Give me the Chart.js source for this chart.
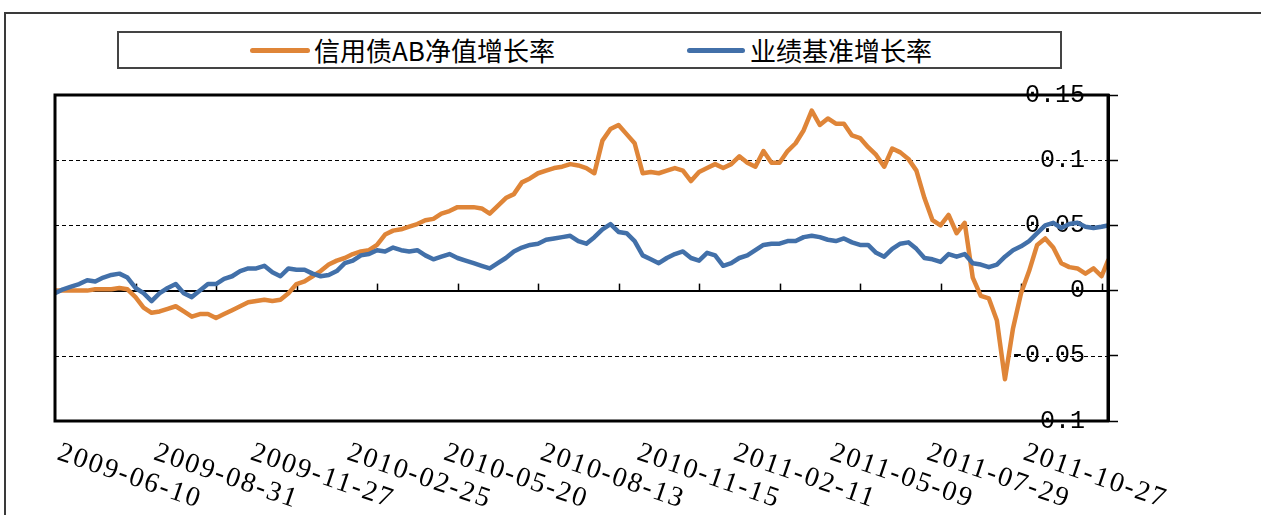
<!DOCTYPE html>
<html>
<head>
<meta charset="utf-8">
<script src="https://cdn.jsdelivr.net/npm/chart.js@4/dist/chart.umd.min.js"></script>
<style>
  html, body { margin: 0; padding: 0; background: #fff; overflow: hidden; }
  #wrap { position: relative; width: 1261px; height: 515px; overflow: hidden; }
  #frame { position: absolute; left: 4px; top: 12px; width: 1300px; height: 560px; border: 2px solid #3a3a3a; box-sizing: border-box; }
  #legend { position: absolute; left: 117px; top: 31px; width: 945px; height: 38px; border: 2px solid #444; box-sizing: border-box; }
  .sw { position: absolute; height: 5px; border-radius: 3px; top: 48px; }
  .lt { position: absolute; top: 33px; font: 26px "Noto Sans CJK SC", sans-serif; line-height: 34px; color: #000; white-space: nowrap; }
  canvas { position: absolute; left: 0; top: 0; }
</style>
</head>
<body>
<div id="wrap">
  <div id="frame"></div>
  <div id="legend"></div>
  <div class="sw" id="sw0" style="left:250px;width:60px"></div>
  <div class="lt" id="lt0" style="left:314px"></div>
  <div class="sw" id="sw1" style="left:687px;width:58px"></div>
  <div class="lt" id="lt1" style="left:750px"></div>
  <canvas id="chart" width="1261" height="515"></canvas>
</div>
<script>
// series names + colours
const SERIES_NAMES = ["信用债AB净值增长率", "业绩基准增长率"];
const SERIES_COLORS = ["#DF8538", "#4270A9"];

// date labels and their position along the trading-day axis
const DATE_LABELS = ["2009-06-10","2009-08-31","2009-11-27","2010-02-25","2010-05-20","2010-08-13","2010-11-15","2011-02-11","2011-05-09","2011-07-29","2011-10-27"];
const DATE_POS = [0, 60, 120, 180, 240, 300, 360, 420, 480, 540, 600];
const X_TICKS = [50, 100, 150, 200, 250, 300, 350, 400, 450, 500, 550, 600, 650];
const X_MAX = 654;
const SAMPLE_STEP = 5;

const Y_MIN = -0.1, Y_MAX = 0.15, Y_STEP = 0.05;

// values, one every 5 trading days
const creditAB = [
  0,0,0,0,0,0.001,0.001,0.001,0.002,0.001,
  -0.005,-0.013,-0.017,-0.016,-0.014,-0.012,-0.016,-0.020,-0.018,-0.018,
  -0.021,-0.018,-0.015,-0.012,-0.009,-0.008,-0.007,-0.008,-0.007,-0.002,
  0.005,0.007,0.011,0.015,0.020,0.023,0.025,0.028,0.030,0.031,
  0.035,0.043,0.046,0.047,0.049,0.051,0.054,0.055,0.059,0.061,
  0.064,0.064,0.064,0.063,0.059,0.065,0.071,0.074,0.083,0.086,
  0.090,0.092,0.094,0.095,0.097,0.096,0.094,0.090,0.115,0.124,
  0.127,0.120,0.113,0.090,0.091,0.090,0.092,0.094,0.092,0.084,
  0.091,0.094,0.097,0.094,0.097,0.103,0.098,0.095,0.107,0.098,
  0.098,0.107,0.113,0.123,0.138,0.127,0.132,0.128,0.128,0.119,
  0.117,0.110,0.104,0.095,0.109,0.106,0.101,0.092,0.071,0.054,
  0.050,0.058,0.044,0.052,0.010,-0.004,-0.006,-0.023,-0.068,-0.029,
  -0.002,0.015,0.035,0.040,0.033,0.021,0.018,0.017,0.013,0.017,
  0.011,0.023
];
const benchmark = [
  -0.002,0.001,0.003,0.005,0.008,0.007,0.010,0.012,0.013,0.010,
  0.002,-0.002,-0.008,-0.002,0.002,0.005,-0.002,-0.005,0,0.005,
  0.005,0.009,0.011,0.015,0.017,0.017,0.019,0.014,0.011,0.017,
  0.016,0.016,0.013,0.011,0.012,0.015,0.021,0.023,0.027,0.028,
  0.031,0.030,0.033,0.031,0.030,0.031,0.027,0.024,0.026,0.028,
  0.025,0.023,0.021,0.019,0.017,0.021,0.025,0.030,0.033,0.035,
  0.036,0.039,0.040,0.041,0.042,0.038,0.036,0.041,0.047,0.051,
  0.045,0.044,0.038,0.027,0.024,0.021,0.025,0.028,0.030,0.025,
  0.023,0.029,0.027,0.019,0.021,0.025,0.027,0.031,0.035,0.036,
  0.036,0.038,0.038,0.041,0.042,0.041,0.039,0.038,0.040,0.037,
  0.035,0.035,0.029,0.026,0.032,0.036,0.037,0.032,0.025,0.024,
  0.022,0.028,0.026,0.028,0.021,0.020,0.018,0.020,0.026,0.031,
  0.034,0.038,0.044,0.050,0.052,0.048,0.051,0.052,0.049,0.048,
  0.049,0.050
];

// legend (html)
[0, 1].forEach(i => {
  document.getElementById("sw" + i).style.background = SERIES_COLORS[i];
  document.getElementById("lt" + i).textContent = SERIES_NAMES[i];
});

const toPoints = arr => arr.map((v, i) => ({ x: Math.min(i * SAMPLE_STEP, X_MAX), y: v }));
const isZero = v => Math.abs(v) < 1e-9;

// gridlines (dashed, zero solid), plot frame, small x ticks on the zero line, rotated date labels
const extras = {
  id: "extras",
  beforeDatasetsDraw(chart){
    const { ctx, chartArea: a, scales: { x, y } } = chart;
    ctx.save();
    ctx.strokeStyle = "#000";
    y.ticks.forEach(t => {
      const py = Math.round(y.getPixelForValue(t.value));
      ctx.beginPath();
      if (isZero(t.value)){
        ctx.setLineDash([]);
        ctx.lineWidth = 2;
        ctx.moveTo(a.left, py);
        ctx.lineTo(a.right, py);
      } else {
        ctx.setLineDash([4, 3]);
        ctx.lineWidth = 1;
        ctx.moveTo(a.left, py + 0.5);
        ctx.lineTo(a.right, py + 0.5);
      }
      ctx.stroke();
    });
    ctx.setLineDash([]);
    const y0 = y.getPixelForValue(0);
    ctx.lineWidth = 1.5;
    X_TICKS.forEach(t => {
      const px = Math.round(x.getPixelForValue(t)) + 0.5;
      ctx.beginPath();
      ctx.moveTo(px, y0);
      ctx.lineTo(px, y0 - 7);
      ctx.stroke();
    });
    ctx.restore();
  },
  afterDatasetsDraw(chart){
    const { ctx, chartArea: a, scales: { x } } = chart;
    ctx.save();
    ctx.strokeStyle = "#000";
    ctx.lineWidth = 3;
    ctx.strokeRect(a.left, a.top, a.right - a.left, a.bottom - a.top);

    ctx.fillStyle = "#000";
    ctx.font = '28px "Liberation Serif"';
    ctx.letterSpacing = "2px";
    ctx.textAlign = "left";
    ctx.textBaseline = "alphabetic";
    DATE_LABELS.forEach((lab, i) => {
      const px = x.getPixelForValue(DATE_POS[i]);
      ctx.save();
      ctx.translate(px + 1, a.bottom + 38);
      ctx.rotate(19 * Math.PI / 180);
      ctx.fillText(lab, 0, 0);
      ctx.restore();
    });
    ctx.restore();
  }
};

new Chart(document.getElementById("chart"), {
  type: "line",
  data: {
    datasets: [
      { label: SERIES_NAMES[0], data: toPoints(creditAB), borderColor: SERIES_COLORS[0], order: 1 },
      { label: SERIES_NAMES[1], data: toPoints(benchmark), borderColor: SERIES_COLORS[1], order: 0 }
    ]
  },
  options: {
    responsive: false,
    animation: false,
    events: [],
    layout: { padding: { left: 55, top: 95, right: 143, bottom: 94 } },
    elements: {
      line: { borderWidth: 4.5, tension: 0, borderCapStyle: "round", borderJoinStyle: "round", fill: false },
      point: { radius: 0 }
    },
    plugins: { legend: { display: false }, tooltip: { enabled: false } },
    scales: {
      x: { type: "linear", min: 0, max: X_MAX, display: false },
      y: {
        type: "linear",
        position: "right",
        min: Y_MIN, max: Y_MAX,
        afterFit: s => { s.width = 10; },
        ticks: {
          stepSize: Y_STEP,
          mirror: true,
          padding: -23,
          color: "#000",
          font: { family: "Liberation Mono", size: 25 },
          callback: v => String(Math.round(v * 100) / 100)
        },
        grid: {
          drawOnChartArea: false,
          color: "#000",
          tickLength: 10,
          tickWidth: 1.5,
          tickColor: "#000"
        },
        border: { display: true, color: "#000", width: 3 }
      }
    }
  },
  plugins: [extras]
});
</script>
</body>
</html>
